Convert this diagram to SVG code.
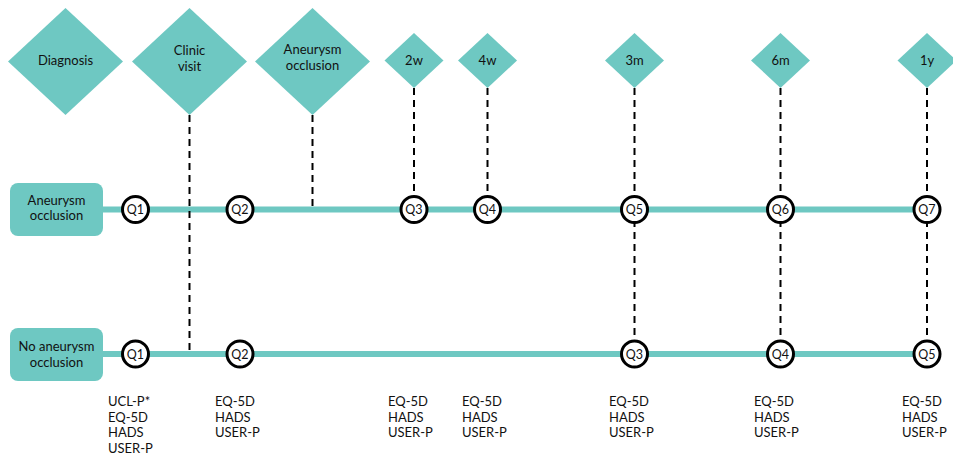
<svg xmlns="http://www.w3.org/2000/svg" width="953" height="454" viewBox="0 0 953 454">
<style>
.dia{fill:#6ec8c2}
.box{fill:#6ec8c2}
.t{font-family:Lato,"Liberation Sans",sans-serif;font-size:13px;fill:#111;text-anchor:middle}
.l{font-family:Lato,"Liberation Sans",sans-serif;font-size:13px;fill:#111}
.q{fill:#fff;stroke:#000;stroke-width:3}
.qt{font-family:Lato,"Liberation Sans",sans-serif;font-size:12.5px;fill:#111;text-anchor:middle}
.tl{stroke:#6ec8c2;stroke-width:6;fill:none}
.d{stroke:#000;stroke-width:2;stroke-dasharray:7 5;fill:none}
</style>
<rect width="953" height="454" fill="#fff"/>
<g id="connectors">
<line class="tl" x1="100" y1="209.5" x2="927" y2="209.5"/>
<line class="tl" x1="100" y1="354" x2="927" y2="354"/>
<line class="d" x1="189.5" y1="115" x2="189.5" y2="352"/>
<line class="d" x1="312.5" y1="115" x2="312.5" y2="207"/>
<line class="d" x1="414" y1="88" x2="414" y2="196"/>
<line class="d" x1="487.5" y1="88" x2="487.5" y2="196"/>
<line class="d" x1="634.5" y1="88" x2="634.5" y2="341"/>
<line class="d" x1="780.5" y1="88" x2="780.5" y2="341"/>
<line class="d" x1="927" y1="88" x2="927" y2="341"/>
</g>
<g id="diagnosis"><polygon class="dia" points="65.5,8 123,61.5 65.5,115 8,61.5"/><text class="t" x="65.5" y="65">Diagnosis</text></g>
<g id="clinic-visit"><polygon class="dia" points="189.5,8 247,61.5 189.5,115 132,61.5"/><text class="t" x="189.5" y="55">Clinic</text><text class="t" x="189.5" y="71">visit</text></g>
<g id="aneurysm-occlusion-event"><polygon class="dia" points="312.5,8 370,61.5 312.5,115 255,61.5"/><text class="t" x="312.5" y="54">Aneurysm</text><text class="t" x="312.5" y="70">occlusion</text></g>
<g id="t2w"><polygon class="dia" points="414,33 443.5,60.5 414,88 384.5,60.5"/><text class="t" x="414" y="65">2w</text></g>
<g id="t4w"><polygon class="dia" points="487.5,33 517,60.5 487.5,88 458,60.5"/><text class="t" x="487.5" y="65">4w</text></g>
<g id="t3m"><polygon class="dia" points="634.5,33 664,60.5 634.5,88 605,60.5"/><text class="t" x="634.5" y="65">3m</text></g>
<g id="t6m"><polygon class="dia" points="780.5,33 810,60.5 780.5,88 751,60.5"/><text class="t" x="780.5" y="65">6m</text></g>
<g id="t1y"><polygon class="dia" points="927,33 956.5,60.5 927,88 897.5,60.5"/><text class="t" x="927" y="65">1y</text></g>
<g id="box-occlusion"><rect class="box" x="10" y="183" width="93" height="53" rx="8"/><text class="t" x="56.5" y="205">Aneurysm</text><text class="t" x="56.5" y="220">occlusion</text></g>
<g id="box-no-occlusion"><rect class="box" x="10" y="328" width="93" height="53" rx="8"/><text class="t" x="56.5" y="351">No aneurysm</text><text class="t" x="56.5" y="367">occlusion</text></g>
<g id="upper-q1"><circle class="q" cx="135.5" cy="209.5" r="13"/><text class="qt" x="135.5" y="214">Q1</text></g>
<g id="upper-q2"><circle class="q" cx="240" cy="209.5" r="13"/><text class="qt" x="240" y="214">Q2</text></g>
<g id="upper-q3"><circle class="q" cx="414" cy="209.5" r="13"/><text class="qt" x="414" y="214">Q3</text></g>
<g id="upper-q4"><circle class="q" cx="487.5" cy="209.5" r="13"/><text class="qt" x="487.5" y="214">Q4</text></g>
<g id="upper-q5"><circle class="q" cx="634.5" cy="209.5" r="13"/><text class="qt" x="634.5" y="214">Q5</text></g>
<g id="upper-q6"><circle class="q" cx="780.5" cy="209.5" r="13"/><text class="qt" x="780.5" y="214">Q6</text></g>
<g id="upper-q7"><circle class="q" cx="927" cy="209.5" r="13"/><text class="qt" x="927" y="214">Q7</text></g>
<g id="lower-q1"><circle class="q" cx="135.5" cy="354" r="13"/><text class="qt" x="135.5" y="358.5">Q1</text></g>
<g id="lower-q2"><circle class="q" cx="240" cy="354" r="13"/><text class="qt" x="240" y="358.5">Q2</text></g>
<g id="lower-q3"><circle class="q" cx="634.5" cy="354" r="13"/><text class="qt" x="634.5" y="358.5">Q3</text></g>
<g id="lower-q4"><circle class="q" cx="780.5" cy="354" r="13"/><text class="qt" x="780.5" y="358.5">Q4</text></g>
<g id="lower-q5"><circle class="q" cx="927" cy="354" r="13"/><text class="qt" x="927" y="358.5">Q5</text></g>
<g id="list-q1"><text class="l" x="108" y="406">UCL-P*</text><text class="l" x="108" y="421.5">EQ-5D</text><text class="l" x="108" y="437">HADS</text><text class="l" x="108" y="452.5">USER-P</text></g>
<g id="list-q2"><text class="l" x="215" y="406">EQ-5D</text><text class="l" x="215" y="421.5">HADS</text><text class="l" x="215" y="437">USER-P</text></g>
<g id="list-2w"><text class="l" x="388" y="406">EQ-5D</text><text class="l" x="388" y="421.5">HADS</text><text class="l" x="388" y="437">USER-P</text></g>
<g id="list-4w"><text class="l" x="462" y="406">EQ-5D</text><text class="l" x="462" y="421.5">HADS</text><text class="l" x="462" y="437">USER-P</text></g>
<g id="list-3m"><text class="l" x="609" y="406">EQ-5D</text><text class="l" x="609" y="421.5">HADS</text><text class="l" x="609" y="437">USER-P</text></g>
<g id="list-6m"><text class="l" x="754" y="406">EQ-5D</text><text class="l" x="754" y="421.5">HADS</text><text class="l" x="754" y="437">USER-P</text></g>
<g id="list-1y"><text class="l" x="902" y="406">EQ-5D</text><text class="l" x="902" y="421.5">HADS</text><text class="l" x="902" y="437">USER-P</text></g>
</svg>
